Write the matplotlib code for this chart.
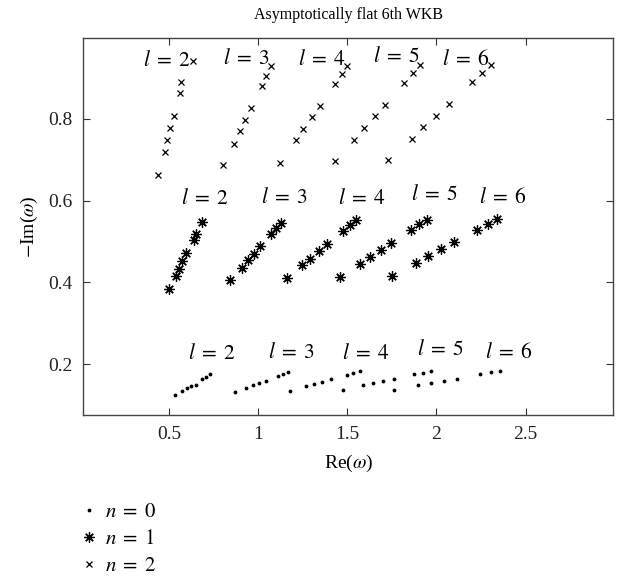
import matplotlib
matplotlib.use("Agg")
import matplotlib.pyplot as plt
import numpy as np

plt.rcParams["font.family"] = "serif"
plt.rcParams["font.serif"] = ["Liberation Serif", "DejaVu Serif"]
plt.rcParams["mathtext.fontset"] = "stix"
plt.rcParams["font.size"] = 14

# n = 0 (dots), one row per l = 2..6
re_n0 = [
    [0.536, 0.575, 0.601, 0.624, 0.650, 0.688, 0.710, 0.729],
    [0.869, 0.935, 0.969, 1.004, 1.042, 1.109, 1.140, 1.169],
    [1.178, 1.268, 1.313, 1.360, 1.408, 1.497, 1.534, 1.571],
    [1.474, 1.587, 1.643, 1.702, 1.764, 1.875, 1.924, 1.969],
    [1.764, 1.899, 1.970, 2.043, 2.115, 2.245, 2.306, 2.358],
]
im_n0 = [
    [0.124, 0.135, 0.141, 0.146, 0.150, 0.163, 0.169, 0.176],
    [0.132, 0.143, 0.149, 0.155, 0.159, 0.171, 0.176, 0.180],
    [0.135, 0.146, 0.151, 0.157, 0.163, 0.173, 0.179, 0.183],
    [0.136, 0.149, 0.153, 0.158, 0.163, 0.176, 0.179, 0.184],
    [0.138, 0.149, 0.155, 0.159, 0.165, 0.176, 0.180, 0.184],
]

# n = 1 (asterisks)
re_n1 = [
    [0.498, 0.538, 0.555, 0.575, 0.598, 0.639, 0.654, 0.684],
    [0.845, 0.910, 0.944, 0.978, 1.013, 1.075, 1.103, 1.131],
    [1.160, 1.244, 1.290, 1.341, 1.388, 1.478, 1.515, 1.547],
    [1.457, 1.571, 1.628, 1.688, 1.746, 1.856, 1.903, 1.949],
    [1.753, 1.886, 1.955, 2.026, 2.099, 2.230, 2.289, 2.339],
]
im_n1 = [
    [0.385, 0.416, 0.434, 0.452, 0.472, 0.503, 0.519, 0.547],
    [0.405, 0.436, 0.454, 0.470, 0.488, 0.519, 0.533, 0.546],
    [0.412, 0.442, 0.458, 0.478, 0.495, 0.526, 0.541, 0.553],
    [0.413, 0.446, 0.462, 0.480, 0.496, 0.529, 0.542, 0.553],
    [0.415, 0.447, 0.464, 0.481, 0.499, 0.529, 0.544, 0.556],
]

# n = 2 (crosses)
re_n2 = [
    [0.438, 0.476, 0.491, 0.508, 0.526, 0.560, 0.570, 0.635],
    [0.803, 0.865, 0.897, 0.929, 0.963, 1.022, 1.047, 1.075],
    [1.122, 1.212, 1.253, 1.300, 1.347, 1.431, 1.469, 1.500],
    [1.431, 1.539, 1.596, 1.656, 1.712, 1.820, 1.867, 1.908],
    [1.730, 1.862, 1.927, 1.998, 2.071, 2.201, 2.257, 2.307],
]
im_n2 = [
    [0.662, 0.718, 0.747, 0.777, 0.806, 0.863, 0.889, 0.942],
    [0.686, 0.739, 0.769, 0.798, 0.826, 0.880, 0.904, 0.928],
    [0.693, 0.747, 0.774, 0.804, 0.832, 0.885, 0.910, 0.930],
    [0.696, 0.749, 0.778, 0.806, 0.834, 0.888, 0.911, 0.932],
    [0.698, 0.751, 0.779, 0.806, 0.836, 0.889, 0.913, 0.932],
]

l_values = [2, 3, 4, 5, 6]
# label anchor points (left edge, vertical centre) for each row of labels
lab_top_x = [0.354, 0.803, 1.225, 1.646, 2.030]
lab_top_y = [0.942, 0.946, 0.944, 0.950, 0.944]
lab_mid_x = [0.570, 1.019, 1.448, 1.858, 2.236]
lab_mid_y = [0.603, 0.607, 0.603, 0.613, 0.607]
lab_bot_x = [0.607, 1.056, 1.469, 1.893, 2.274]
lab_bot_y = [0.224, 0.228, 0.226, 0.234, 0.228]

fig = plt.figure(figsize=(6.17, 5.78), dpi=100)
ax = fig.add_axes([0.135, 0.282, 0.8585, 0.652])

h0 = h1 = h2 = None
for i in range(len(l_values)):
    h0, = ax.plot(re_n0[i], im_n0[i], ls="none", marker=".", ms=3.5, color="black")
    h1, = ax.plot(re_n1[i], im_n1[i], ls="none", marker=(8, 2, 0), ms=7.5,
                  mew=0.9, color="black")
    h2, = ax.plot(re_n2[i], im_n2[i], ls="none", marker="x", ms=5, mew=0.9,
                  color="black")

for xs, ys in [(lab_top_x, lab_top_y), (lab_mid_x, lab_mid_y), (lab_bot_x, lab_bot_y)]:
    for lv, x, y in zip(l_values, xs, ys):
        ax.text(x, y, rf"$l\;=\;{lv}$", ha="left", va="center", fontsize=15.5)

ax.set_xlim(0.02, 2.99)
ax.set_ylim(0.076, 0.997)
ax.set_xticks([0.5, 1, 1.5, 2, 2.5])
ax.set_xticklabels(["0.5", "1", "1.5", "2", "2.5"])
ax.set_yticks([0.2, 0.4, 0.6, 0.8])
ax.tick_params(direction="in", top=True, right=True, length=5, width=0.8,
               colors="#333333", labelcolor="#222222", labelsize=14)
ax.tick_params(axis="x", pad=8)
ax.tick_params(axis="y", pad=7.5)
for s in ax.spines.values():
    s.set_color("#444444")
    s.set_linewidth(1.0)

ax.set_title("Asymptotically flat 6th WKB", fontsize=11.5, pad=14)
ax.set_xlabel(r"Re($\omega$)", fontsize=14, labelpad=7)
ax.set_ylabel(r"$-$Im($\omega$)", fontsize=14, labelpad=6)

fig.legend([h0, h1, h2], [r"$n\;=\;0$", r"$n\;=\;1$", r"$n\;=\;2$"],
           loc="upper left", bbox_to_anchor=(0.127, 0.130), frameon=False,
           handlelength=1.0, handletextpad=0.3, borderpad=0, borderaxespad=0,
           labelspacing=0.35, fontsize=15)

fig.savefig("out.png", dpi=100)
